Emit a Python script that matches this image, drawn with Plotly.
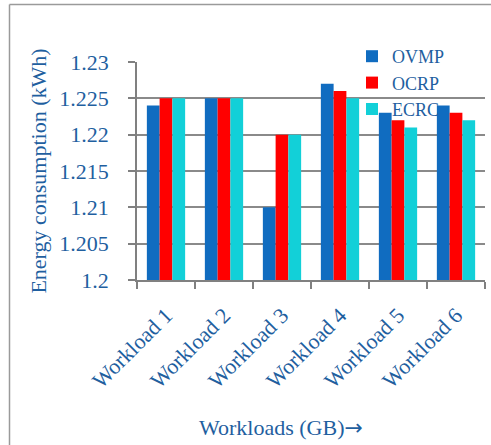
import plotly.graph_objects as go

workloads = ["Workload 1", "Workload 2", "Workload 3", "Workload 4", "Workload 5", "Workload 6"]
ovmp = [1.224, 1.225, 1.210, 1.227, 1.223, 1.224]
ocrp = [1.225, 1.225, 1.220, 1.226, 1.222, 1.223]
ecrc = [1.225, 1.225, 1.220, 1.225, 1.221, 1.222]
y_ticks = [1.2, 1.205, 1.21, 1.215, 1.22, 1.225, 1.23]
y_tick_text = ["1.2", "1.205", "1.21", "1.215", "1.22", "1.225", "1.23"]
BASE = 1.2

TEXT_BLUE = "#1f5f9f"
FONT = "Liberation Serif"

W, H = 491, 445
L, R, T, B = 137, 6, 62, 165
pw, ph = W - L - R, H - T - B

def px_x(x):
    return (x - L) / pw

def px_y(y):
    return (H - B - y) / ph

fig = go.Figure()
for name, vals, col in [("OVMP", ovmp, "#106cc0"), ("OCRP", ocrp, "#ff0000"), ("ECRC", ecrc, "#12d0d8")]:
    # bars rise from the 1.2 baseline
    fig.add_trace(go.Bar(x=workloads, y=[v - BASE for v in vals], base=BASE, name=name,
                         marker_color=col, marker_line_width=0))

fig.update_layout(
    width=W, height=H,
    margin=dict(l=L, r=R, t=T, b=B),
    paper_bgcolor="white", plot_bgcolor="white",
    barmode="group", bargap=0.34, bargroupgap=0,
    font=dict(family=FONT, color=TEXT_BLUE),
    showlegend=True,
    legend=dict(x=px_x(352), y=px_y(38), xanchor="left", yanchor="top",
                bgcolor="rgba(0,0,0,0)", font=dict(size=18, family=FONT, color=TEXT_BLUE),
                itemwidth=30, tracegroupgap=0),
    xaxis=dict(showgrid=False, showline=True, linecolor="#808080", linewidth=1.5,
               ticks="outside", tickson="boundaries", ticklen=7, tickcolor="#808080",
               tickwidth=1.5, tickangle=-45, ticklabelstandoff=12,
               tickfont=dict(size=22, family=FONT, color=TEXT_BLUE)),
    yaxis=dict(range=[1.2, 1.23], tickvals=y_ticks, ticktext=y_tick_text,
               showgrid=True, gridcolor="#8a8a8a", gridwidth=1.5,
               showline=True, linecolor="#808080", linewidth=1.5,
               ticks="outside", ticklen=7, tickcolor="#808080", tickwidth=1.5,
               ticklabelstandoff=15,
               tickfont=dict(size=22, family=FONT, color=TEXT_BLUE),
               title=dict(text="Energy consumption (kWh)", font=dict(size=22, family=FONT, color=TEXT_BLUE),
                          standoff=7)),
)

fig.add_annotation(text="Workloads (GB)<span style='font-family:DejaVu Sans'>→</span>",
                   x=px_x(281), y=px_y(427), xref="paper", yref="paper",
                   xanchor="center", yanchor="middle",
                   showarrow=False, font=dict(size=22, family=FONT, color=TEXT_BLUE))

# frame lines on the left and top of the figure
fig.add_shape(type="line", xref="paper", yref="paper", x0=px_x(9.5), x1=px_x(9.5),
              y0=px_y(4.5), y1=px_y(446), line=dict(color="#9a9a9a", width=1.5))
fig.add_shape(type="line", xref="paper", yref="paper", x0=px_x(9.5), x1=px_x(492),
              y0=px_y(4.5), y1=px_y(4.5), line=dict(color="#9a9a9a", width=1.5))

fig.write_html("out.html")
